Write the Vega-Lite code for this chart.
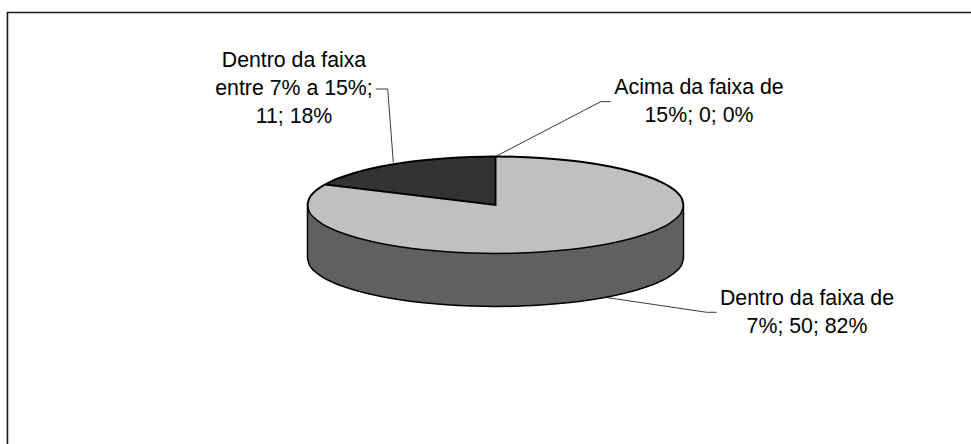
{
  "$schema": "https://vega.github.io/schema/vega-lite/v6.json",
  "width": 971,
  "height": 444,
  "padding": 0,
  "autosize": {"type": "none"},
  "background": "white",
  "view": {"stroke": null},
  "datasets": {
    "disco": [
      {"u": -1, "cima": 0, "baixo": 0, "base": -0.282},
      {"u": -0.9914, "cima": 0.0337, "baixo": -0.0337, "base": -0.3157},
      {"u": -0.9659, "cima": 0.0668, "baixo": -0.0668, "base": -0.3488},
      {"u": -0.9239, "cima": 0.0987, "baixo": -0.0987, "base": -0.3807},
      {"u": -0.866, "cima": 0.129, "baixo": -0.129, "base": -0.411},
      {"u": -0.7934, "cima": 0.1571, "baixo": -0.1571, "base": -0.4391},
      {"u": -0.7071, "cima": 0.1824, "baixo": -0.1824, "base": -0.4644},
      {"u": -0.6088, "cima": 0.2047, "baixo": -0.2047, "base": -0.4867},
      {"u": -0.5, "cima": 0.2234, "baixo": -0.2234, "base": -0.5054},
      {"u": -0.3827, "cima": 0.2384, "baixo": -0.2384, "base": -0.5204},
      {"u": -0.2588, "cima": 0.2492, "baixo": -0.2492, "base": -0.5312},
      {"u": -0.1305, "cima": 0.2558, "baixo": -0.2558, "base": -0.5378},
      {"u": 0, "cima": 0.258, "baixo": -0.258, "base": -0.54},
      {"u": 0.1305, "cima": 0.2558, "baixo": -0.2558, "base": -0.5378},
      {"u": 0.2588, "cima": 0.2492, "baixo": -0.2492, "base": -0.5312},
      {"u": 0.3827, "cima": 0.2384, "baixo": -0.2384, "base": -0.5204},
      {"u": 0.5, "cima": 0.2234, "baixo": -0.2234, "base": -0.5054},
      {"u": 0.6088, "cima": 0.2047, "baixo": -0.2047, "base": -0.4867},
      {"u": 0.7071, "cima": 0.1824, "baixo": -0.1824, "base": -0.4644},
      {"u": 0.7934, "cima": 0.1571, "baixo": -0.1571, "base": -0.4391},
      {"u": 0.866, "cima": 0.129, "baixo": -0.129, "base": -0.411},
      {"u": 0.9239, "cima": 0.0987, "baixo": -0.0987, "base": -0.3807},
      {"u": 0.9659, "cima": 0.0668, "baixo": -0.0668, "base": -0.3488},
      {"u": 0.9914, "cima": 0.0337, "baixo": -0.0337, "base": -0.3157},
      {"u": 1, "cima": 0, "baixo": 0, "base": -0.282}
    ],
    "fatia18": [
      {"u": -0.9055, "cima": 0.1094, "corda": 0.1094},
      {"u": -0.866, "cima": 0.129, "corda": 0.1046},
      {"u": -0.7934, "cima": 0.1571, "corda": 0.0958},
      {"u": -0.7071, "cima": 0.1824, "corda": 0.0854},
      {"u": -0.6088, "cima": 0.2047, "corda": 0.0735},
      {"u": -0.5, "cima": 0.2234, "corda": 0.0604},
      {"u": -0.3827, "cima": 0.2384, "corda": 0.0462},
      {"u": -0.2588, "cima": 0.2492, "corda": 0.0313},
      {"u": -0.1305, "cima": 0.2558, "corda": 0.0158},
      {"u": 0, "cima": 0.258, "corda": 0}
    ],
    "arestas": [
      {"grupo": "parede esquerda", "ordem": 1, "u": -1, "v": 0},
      {"grupo": "parede esquerda", "ordem": 2, "u": -1, "v": -0.282},
      {"grupo": "parede direita", "ordem": 1, "u": 1, "v": 0},
      {"grupo": "parede direita", "ordem": 2, "u": 1, "v": -0.282}
    ],
    "raios": [
      {"ordem": 1, "u": -0.9055, "v": 0.1094},
      {"ordem": 2, "u": 0, "v": 0},
      {"ordem": 3, "u": 0, "v": 0.258}
    ],
    "guias": [
      {"grupo": "Dentro da faixa entre 7% a 15%", "ordem": 1, "u": -0.6372, "v": 0.617},
      {"grupo": "Dentro da faixa entre 7% a 15%", "ordem": 2, "u": -0.5734, "v": 0.617},
      {"grupo": "Dentro da faixa entre 7% a 15%", "ordem": 3, "u": -0.5436, "v": 0.2271},
      {"grupo": "Acima da faixa de 15%", "ordem": 1, "u": 0.0053, "v": 0.2606},
      {"grupo": "Acima da faixa de 15%", "ordem": 2, "u": 0.5596, "v": 0.5495},
      {"grupo": "Acima da faixa de 15%", "ordem": 3, "u": 0.6128, "v": 0.5495},
      {"grupo": "Dentro da faixa de 7%", "ordem": 1, "u": 0.5718, "v": -0.4894},
      {"grupo": "Dentro da faixa de 7%", "ordem": 2, "u": 1.1234, "v": -0.5707},
      {"grupo": "Dentro da faixa de 7%", "ordem": 3, "u": 1.1766, "v": -0.5707}
    ],
    "moldura": [
      {"ordem": 1, "u": 2.5293, "v": 1.024},
      {"ordem": 2, "u": -2.596, "v": 1.024},
      {"ordem": 3, "u": -2.596, "v": -1.2713}
    ],
    "rotulos": [
      {"categoria": "Dentro da faixa entre 7% a 15%", "n": 11, "pct": 18, "texto": "Dentro da faixa\nentre 7% a 15%;\n11; 18%", "u": -1.0718, "v": 0.734},
      {"categoria": "Acima da faixa de 15%", "n": 0, "pct": 0, "texto": "Acima da faixa de\n15%; 0; 0%", "u": 1.0824, "v": 0.5904},
      {"categoria": "Dentro da faixa de 7%", "n": 50, "pct": 82, "texto": "Dentro da faixa de\n7%; 50; 82%", "u": 1.6569, "v": -0.5319}
    ]
  },
  "encoding": {
    "x": {"field": "u", "type": "quantitative", "axis": null, "scale": {"domain": [-2.6356, 2.5293], "nice": false, "zero": false}}
  },
  "layer": [
    {
      "data": {"name": "moldura"},
      "mark": {"type": "line", "stroke": "#1a1a1a", "strokeWidth": 1.6, "clip": false},
      "encoding": {
        "y": {"field": "v", "type": "quantitative", "axis": null, "scale": {"domain": [-1.2713, 1.0904], "nice": false, "zero": false}},
        "order": {"field": "ordem"}
      }
    },
    {
      "data": {"name": "guias"},
      "mark": {"type": "line", "stroke": "#222222", "strokeWidth": 0.9},
      "encoding": {
        "y": {"field": "v", "type": "quantitative", "axis": null, "scale": {"domain": [-1.2713, 1.0904], "nice": false, "zero": false}},
        "detail": {"field": "grupo"},
        "order": {"field": "ordem"}
      }
    },
    {
      "data": {"name": "disco"},
      "mark": {"type": "area", "fill": "#606060", "interpolate": "monotone"},
      "encoding": {
        "y": {"field": "baixo", "type": "quantitative", "axis": null, "scale": {"domain": [-1.2713, 1.0904], "nice": false, "zero": false}},
        "y2": {"field": "base"}
      }
    },
    {
      "data": {"name": "disco"},
      "mark": {"type": "area", "fill": "#c0c0c0", "interpolate": "monotone"},
      "encoding": {
        "y": {"field": "cima", "type": "quantitative", "axis": null, "scale": {"domain": [-1.2713, 1.0904], "nice": false, "zero": false}},
        "y2": {"field": "baixo"}
      }
    },
    {
      "data": {"name": "fatia18"},
      "mark": {"type": "area", "fill": "#333333", "interpolate": "monotone"},
      "encoding": {
        "y": {"field": "cima", "type": "quantitative", "axis": null, "scale": {"domain": [-1.2713, 1.0904], "nice": false, "zero": false}},
        "y2": {"field": "corda"}
      }
    },
    {
      "data": {"name": "disco"},
      "mark": {"type": "line", "stroke": "#000000", "strokeWidth": 1.5, "interpolate": "monotone"},
      "encoding": {
        "y": {"field": "base", "type": "quantitative", "axis": null, "scale": {"domain": [-1.2713, 1.0904], "nice": false, "zero": false}}
      }
    },
    {
      "data": {"name": "disco"},
      "mark": {"type": "line", "stroke": "#000000", "strokeWidth": 1.5, "interpolate": "monotone"},
      "encoding": {
        "y": {"field": "baixo", "type": "quantitative", "axis": null, "scale": {"domain": [-1.2713, 1.0904], "nice": false, "zero": false}}
      }
    },
    {
      "data": {"name": "disco"},
      "mark": {"type": "line", "stroke": "#000000", "strokeWidth": 2, "interpolate": "monotone"},
      "encoding": {
        "y": {"field": "cima", "type": "quantitative", "axis": null, "scale": {"domain": [-1.2713, 1.0904], "nice": false, "zero": false}}
      }
    },
    {
      "data": {"name": "arestas"},
      "mark": {"type": "line", "stroke": "#000000", "strokeWidth": 1.5},
      "encoding": {
        "y": {"field": "v", "type": "quantitative", "axis": null, "scale": {"domain": [-1.2713, 1.0904], "nice": false, "zero": false}},
        "detail": {"field": "grupo"},
        "order": {"field": "ordem"}
      }
    },
    {
      "data": {"name": "raios"},
      "mark": {"type": "line", "stroke": "#000000", "strokeWidth": 2, "strokeJoin": "miter"},
      "encoding": {
        "y": {"field": "v", "type": "quantitative", "axis": null, "scale": {"domain": [-1.2713, 1.0904], "nice": false, "zero": false}},
        "order": {"field": "ordem"}
      }
    },
    {
      "data": {"name": "rotulos"},
      "mark": {"type": "text", "font": "Liberation Sans", "fontSize": 21.3, "lineHeight": 28, "lineBreak": "\n", "align": "center", "baseline": "alphabetic", "color": "#000000"},
      "encoding": {
        "y": {"field": "v", "type": "quantitative", "axis": null, "scale": {"domain": [-1.2713, 1.0904], "nice": false, "zero": false}},
        "text": {"field": "texto"}
      }
    }
  ]
}
